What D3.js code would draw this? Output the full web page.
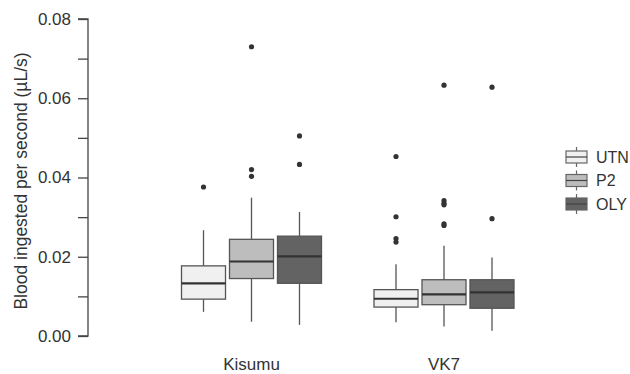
<!DOCTYPE html>
<html>
<head>
<meta charset="utf-8">
<script src="https://cdn.jsdelivr.net/npm/d3@7"></script>
<style>
  body { margin: 0; background: #fff; }
  text { font-family: "Liberation Sans", Arial, sans-serif; fill: #333; }
</style>
</head>
<body>
<div id="chart"></div>
<script>
// groups on the x axis and the three strains in each
const groups = ["Kisumu", "VK7"];
const series = ["UTN", "P2", "OLY"];
const fills = ["#f0f0f0", "#bdbdbd", "#636363"];

// box stats, one row per group, one value per series
const lowWhisker = [[0.0061, 0.0036, 0.0028], [0.0035, 0.0024, 0.0013]];
const q1 = [[0.0093, 0.0145, 0.0133], [0.0073, 0.0079, 0.0070]];
const median = [[0.0133, 0.0188, 0.0201], [0.0094, 0.0105, 0.0110]];
const q3 = [[0.0177, 0.0244, 0.0252], [0.0117, 0.0142, 0.0142]];
const highWhisker = [[0.0267, 0.0349, 0.0313], [0.0181, 0.0228, 0.0198]];
const outliers = [
  [[0.0376], [0.0730, 0.0420, 0.0403], [0.0505, 0.0433]],
  [[0.0453, 0.0301, 0.0246, 0.0237], [0.0633, 0.0342, 0.0335, 0.0331, 0.0283, 0.0279], [0.0628, 0.0296]]
];

const yTicks = [0, 0.01, 0.02, 0.03, 0.04, 0.05, 0.06, 0.07, 0.08];

const width = 630;
const height = 374;

const svg = d3.select("#chart")
  .append("svg")
  .attr("width", width)
  .attr("height", height);

const y = d3.scaleLinear().domain([0, 0.08]).range([336, 19]);

const x = d3.scaleBand().domain(groups).range([155.25, 540.25]);
const bw = x.bandwidth();
const xs = d3.scaleBand().domain(series)
  .range([bw / 2 - 72, bw / 2 + 72])
  .paddingInner(0.083).paddingOuter(0.0417);

// y axis
const yAxis = svg.append("g")
  .attr("transform", "translate(88,0)")
  .call(d3.axisLeft(y).tickValues(yTicks).tickSize(10).tickPadding(7)
    .tickFormat(d => Math.round(d * 100) % 2 === 0 ? d3.format(".2f")(d) : ""));
yAxis.select(".domain").attr("stroke", "#444").attr("stroke-width", 1.3)
  .attr("d", `M-10,${y(0.08)}H0V${y(0)}H-10`);
yAxis.selectAll(".tick line").attr("stroke", "#444").attr("stroke-width", 1.3);
yAxis.selectAll(".tick text").style("font-size", "17px").attr("fill", "#333");

svg.append("text")
  .attr("transform", "translate(27,181) rotate(-90)")
  .attr("text-anchor", "middle")
  .style("font-size", "17.5px")
  .text("Blood ingested per second (\u00b5L/s)");

// x labels
svg.selectAll(".xlab")
  .data(groups)
  .enter().append("text")
  .attr("class", "xlab")
  .attr("x", d => x(d) + bw / 2)
  .attr("y", 370)
  .attr("text-anchor", "middle")
  .style("font-size", "17px")
  .text(d => d);

// boxes
groups.forEach((g, gi) => {
  series.forEach((s, si) => {
    const left = x(g) + xs(s);
    const cx = left + xs.bandwidth() / 2;
    const box = svg.append("g");
    box.append("line")
      .attr("x1", cx).attr("x2", cx)
      .attr("y1", y(highWhisker[gi][si])).attr("y2", y(q3[gi][si]))
      .attr("stroke", "#555").attr("stroke-width", 1.3);
    box.append("line")
      .attr("x1", cx).attr("x2", cx)
      .attr("y1", y(q1[gi][si])).attr("y2", y(lowWhisker[gi][si]))
      .attr("stroke", "#555").attr("stroke-width", 1.3);
    box.append("rect")
      .attr("x", left).attr("width", xs.bandwidth())
      .attr("y", y(q3[gi][si]))
      .attr("height", y(q1[gi][si]) - y(q3[gi][si]))
      .attr("fill", fills[si]).attr("stroke", "#555").attr("stroke-width", 1.3);
    box.append("line")
      .attr("x1", left).attr("x2", left + xs.bandwidth())
      .attr("y1", y(median[gi][si])).attr("y2", y(median[gi][si]))
      .attr("stroke", "#333").attr("stroke-width", 2.2);
    box.selectAll("circle")
      .data(outliers[gi][si])
      .enter().append("circle")
      .attr("cx", cx).attr("cy", d => y(d))
      .attr("r", 2.6).attr("fill", "#333");
  });
});

// legend
const legend = svg.append("g").attr("transform", "translate(566,157)");
series.forEach((s, i) => {
  const row = legend.append("g").attr("transform", `translate(0,${i * 23.5})`);
  row.append("line").attr("x1", 10.5).attr("x2", 10.5).attr("y1", -10).attr("y2", 10)
    .attr("stroke", "#666").attr("stroke-width", 1.2);
  row.append("rect").attr("x", 0).attr("y", -6).attr("width", 21).attr("height", 12)
    .attr("fill", fills[i]).attr("stroke", "#666").attr("stroke-width", 1.2);
  row.append("line").attr("x1", 0).attr("x2", 21).attr("y1", 0).attr("y2", 0)
    .attr("stroke", "#444").attr("stroke-width", 1.2);
  row.append("text").attr("x", 30).attr("y", 0).attr("dy", "0.35em")
    .style("font-size", "16px").text(s);
});
</script>
</body>
</html>
